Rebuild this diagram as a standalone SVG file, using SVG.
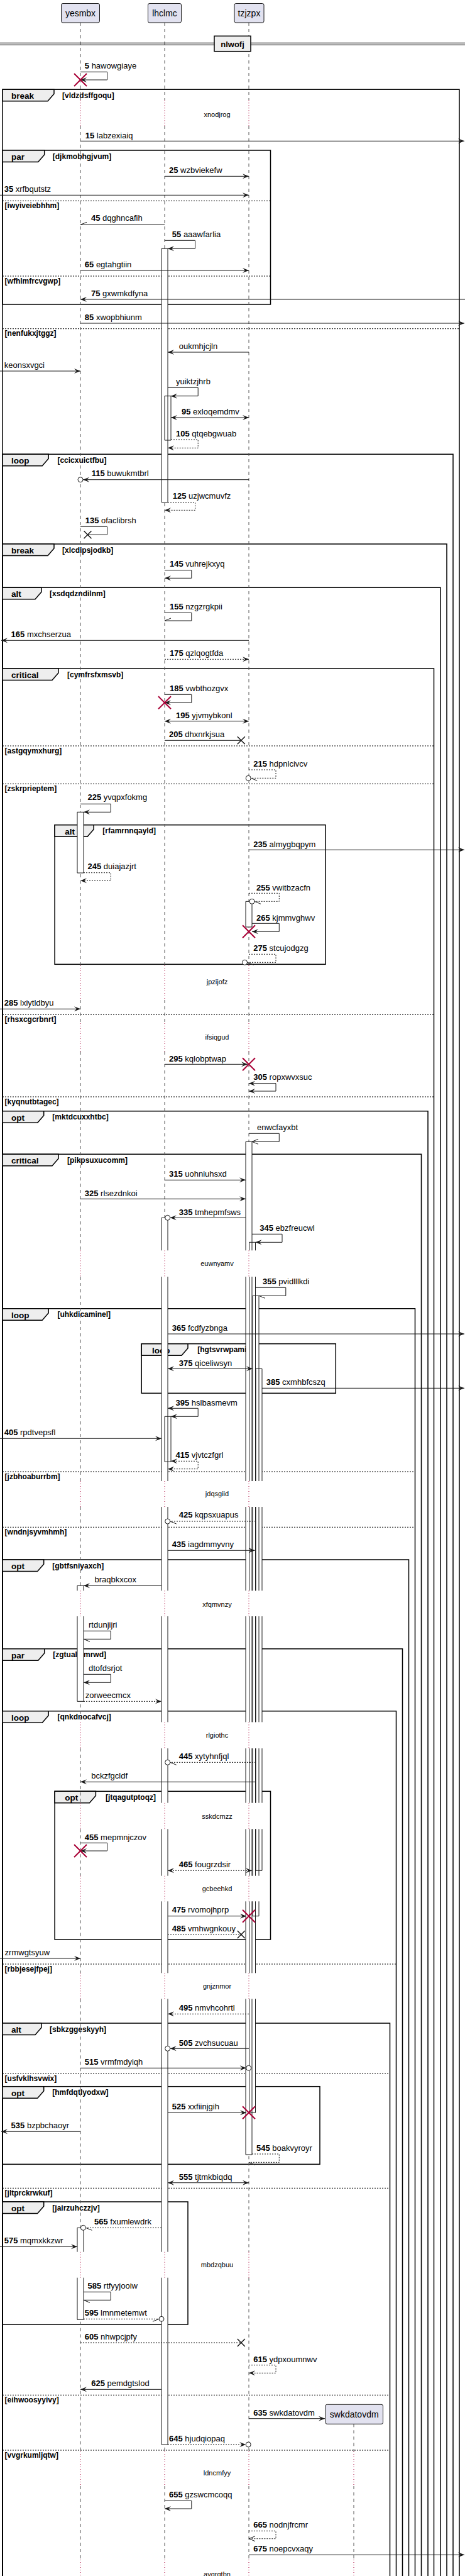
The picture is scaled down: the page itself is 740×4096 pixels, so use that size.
<svg xmlns="http://www.w3.org/2000/svg" xmlns:xlink="http://www.w3.org/1999/xlink" width="740" height="4096" viewBox="0 0 740 4096">
<style>
.ll{stroke:#555;stroke-width:1;stroke-dasharray:5,5;fill:none}
.dl{stroke:#A80036;stroke-width:1;stroke-dasharray:1,3;fill:none}
.pb{fill:#E2E2F0;stroke:#181818;stroke-width:1}
.pt{font-family:"Liberation Sans",Arial,sans-serif;font-size:14px;fill:#000;text-anchor:middle}
.fr{fill:none;stroke:#000;stroke-width:1.5}
.tab{fill:#EEEEEE;stroke:#000;stroke-width:1.5}
.tl{font-family:"Liberation Sans",Arial,sans-serif;font-size:13.5px;font-weight:bold;fill:#000}
.tc{font-family:"Liberation Sans",Arial,sans-serif;font-size:12px;font-weight:bold;fill:#000}
.sep{stroke:#000;stroke-width:1;stroke-dasharray:2,2;fill:none}
.m{font-family:"Liberation Sans",Arial,sans-serif;font-size:13px;fill:#000}
.n{font-weight:bold}
.dt{font-family:"Liberation Sans",Arial,sans-serif;font-size:11px;fill:#000;text-anchor:middle}
.a{stroke:#181818;stroke-width:1;fill:none}
.d{stroke-dasharray:2,2}
.af{fill:#fff;stroke:none}
.ab{fill:none;stroke:#181818;stroke-width:1}
.ci{fill:#fff;stroke:#181818;stroke-width:1}
.dv{stroke:#000;stroke-width:1;fill:none}
</style>
<defs>
<marker id="ah" viewBox="-11 -5 12 10" refX="0" refY="0" markerWidth="12" markerHeight="10" markerUnits="userSpaceOnUse" orient="auto-start-reverse"><path d="M0,0 L-10,-4 L-6,0 L-10,4 Z" fill="#181818"/></marker>
<marker id="ao" viewBox="-11 -5 12 10" refX="0" refY="0" markerWidth="12" markerHeight="10" markerUnits="userSpaceOnUse" orient="auto"><path d="M-10,-4 L0,0 L-10,4" fill="none" stroke="#181818" stroke-width="1"/></marker>
<marker id="hA" viewBox="-11 -5 12 10" refX="0" refY="0" markerWidth="12" markerHeight="10" markerUnits="userSpaceOnUse" orient="auto"><path d="M0,0 L-10,-4" fill="none" stroke="#181818" stroke-width="1"/></marker>
<marker id="hB" viewBox="-11 -5 12 10" refX="0" refY="0" markerWidth="12" markerHeight="10" markerUnits="userSpaceOnUse" orient="auto"><path d="M0,0 L-10,4" fill="none" stroke="#181818" stroke-width="1"/></marker>
<path id="rX" d="M-10,-10L10,10M-10,10L10,-10" stroke="#A80036" stroke-width="2" fill="none"/>
<path id="bX" d="M-6,-6L6,6M-6,6L6,-6" stroke="#181818" stroke-width="1.5" fill="none"/>
<path id="llD" d="M0,36V159.3M0,200V1535M0,1590V1627M0,1672V1988.3M0,2030V2355M0,2396V2529.3M0,2570V2738.3M0,2780V2866.7M0,2908.3V2982.7M0,3023.3V3137.3M0,3178.3V3580.7M0,3621.7V3898M0,3953V4070"/>
<path id="llP" d="M0,159.3V200M0,1535V1590M0,1627V1672M0,1988.3V2030M0,2355V2396M0,2529.3V2570M0,2738.3V2780M0,2866.7V2908.3M0,2982.7V3023.3M0,3137.3V3178.3M0,3580.7V3621.7M0,3898V3953M0,4070V4096"/>
</defs>
<rect x="0" y="0" width="740" height="4096" fill="#fff"/>

<g id="frames">
<!-- F1 break -->
<path class="fr" d="M4,4096V142.3H731V4096"/>
<polygon class="tab" points="4,142.3 86,142.3 86,149.3 76,160.8 4,160.8"/>
<text class="tl" x="18" y="157.3">break</text><text class="tc" x="99" y="155.8">[vldzdsffgoqu]</text>
<path class="sep" d="M4,522.7H731"/><text class="tc" x="7.6" y="534.2">[nenfukxjtggz]</text>
<!-- F2 par -->
<rect class="fr" x="4" y="239" width="426.5" height="245"/>
<polygon class="tab" points="4,239 70.7,239 70.7,246 60.7,257.5 4,257.5"/>
<text class="tl" x="18" y="254">par</text><text class="tc" x="83.8" y="252.5">[djkmobhgjvum]</text>
<path class="sep" d="M4,319.3H430.5"/><text class="tc" x="7.6" y="330.8">[iwyiveiebhhm]</text>
<path class="sep" d="M4,439H430.5"/><text class="tc" x="7.6" y="450.5">[wfhlmfrcvgwp]</text>
<!-- F3 loop -->
<path class="fr" d="M4,4096V722.3H721V4096"/>
<polygon class="tab" points="4,722.3 77.2,722.3 77.2,729.3 67.2,740.8 4,740.8"/>
<text class="tl" x="18" y="737.3">loop</text><text class="tc" x="91.4" y="735.8">[ccicxuictfbu]</text>
<!-- F4 break -->
<path class="fr" d="M4,4096V865H711V4096"/>
<polygon class="tab" points="4,865 86,865 86,872 76,883.5 4,883.5"/>
<text class="tl" x="18" y="880">break</text><text class="tc" x="99" y="878.5">[xlcdipsjodkb]</text>
<!-- F5 alt -->
<path class="fr" d="M4,4096V934.3H701V4096"/>
<polygon class="tab" points="4,934.3 66,934.3 66,941.3 56,952.8 4,952.8"/>
<text class="tl" x="18" y="949.3">alt</text><text class="tc" x="79" y="947.8">[xsdqdzndilnm]</text>
<!-- F6 critical -->
<path class="fr" d="M4,4096V1063H690.5V4096"/>
<polygon class="tab" points="4,1063 93,1063 93,1070 83,1081.5 4,1081.5"/>
<text class="tl" x="18" y="1078">critical</text><text class="tc" x="107" y="1076.5">[cymfrsfxmsvb]</text>
<path class="sep" d="M4,1186H690.5"/><text class="tc" x="7.6" y="1197.5">[astgqymxhurg]</text>
<path class="sep" d="M4,1246.3H690.5"/><text class="tc" x="7.6" y="1257.8">[zskrprieptem]</text>
<path class="sep" d="M4,1613.3H690.5"/><text class="tc" x="7.6" y="1624.8">[rhsxcgcrbnrt]</text>
<path class="sep" d="M4,1744H690.5"/><text class="tc" x="7.6" y="1755.5">[kyqnutbtagec]</text>
<!-- F7 alt nested -->
<rect class="fr" x="87.1" y="1311.7" width="430.9" height="221.6"/>
<polygon class="tab" points="87.1,1311.7 149.1,1311.7 149.1,1318.7 139.1,1330.2 87.1,1330.2"/>
<text class="tl" x="103.3" y="1326.7">alt</text><text class="tc" x="163.3" y="1325.2">[rfamrnnqayld]</text>
<!-- F8 opt -->
<path class="fr" d="M4,4096V1766.7H681V4096"/>
<polygon class="tab" points="4,1766.7 69.7,1766.7 69.7,1773.7 59.7,1785.2 4,1785.2"/>
<text class="tl" x="18" y="1781.7">opt</text><text class="tc" x="83.3" y="1780.2">[mktdcuxxhtbc]</text>
<!-- F9 critical -->
<path class="fr" d="M4,4096V1835.3H670.5V4096"/>
<polygon class="tab" points="4,1835.3 93,1835.3 93,1842.3 83,1853.8 4,1853.8"/>
<text class="tl" x="18" y="1850.3">critical</text><text class="tc" x="107" y="1848.8">[pikpsuxucomm]</text>
<!-- F10 loop -->
<path class="fr" d="M4,4096V2080.7H660.5V4096"/>
<polygon class="tab" points="4,2080.7 77.2,2080.7 77.2,2087.7 67.2,2099.2 4,2099.2"/>
<text class="tl" x="18" y="2095.7">loop</text><text class="tc" x="91.4" y="2094.2">[uhkdicaminel]</text>
<path class="sep" d="M4,2340H660.5"/><text class="tc" x="7.6" y="2351.5">[jzbhoaburrbm]</text>
<path class="sep" d="M4,2428.3H660.5"/><text class="tc" x="7.6" y="2439.8">[wndnjsyvmhmh]</text>
<!-- F11 loop nested -->
<rect class="fr" x="225.2" y="2136.7" width="309.1" height="78.6"/>
<polygon class="tab" points="225.2,2136.7 299,2136.7 299,2143.7 289,2155.2 225.2,2155.2"/>
<text class="tl" x="241.9" y="2151.7">loop</text><text class="tc" x="314.3" y="2150.2">[hgtsvrwpamin]</text>
<!-- F12 opt -->
<path class="fr" d="M4,4096V2480H650.5V4096"/>
<polygon class="tab" points="4,2480 69.7,2480 69.7,2487 59.7,2498.5 4,2498.5"/>
<text class="tl" x="18" y="2495">opt</text><text class="tc" x="83.3" y="2493.5">[gbtfsniyaxch]</text>
<!-- F13 par -->
<path class="fr" d="M4,4096V2621.7H640.5V4096"/>
<polygon class="tab" points="4,2621.7 70.7,2621.7 70.7,2628.7 60.7,2640.2 4,2640.2"/>
<text class="tl" x="18" y="2636.7">par</text><text class="tc" x="84.3" y="2635.2">[zgtualiemrwd]</text>
<!-- F14 loop -->
<path class="fr" d="M4,4096V2720.7H630.5V4096"/>
<polygon class="tab" points="4,2720.7 77.2,2720.7 77.2,2727.7 67.2,2739.2 4,2739.2"/>
<text class="tl" x="18" y="2735.7">loop</text><text class="tc" x="91.4" y="2734.2">[qnkdnocafvcj]</text>
<path class="sep" d="M4,3123H630.5"/><text class="tc" x="7.6" y="3134.5">[rbbjesejfpej]</text>
<!-- F15 opt nested -->
<rect class="fr" x="87.1" y="2848.3" width="343.4" height="235.7"/>
<polygon class="tab" points="87.1,2848.3 152.4,2848.3 152.4,2855.3 142.4,2866.8 87.1,2866.8"/>
<text class="tl" x="103.3" y="2863.3">opt</text><text class="tc" x="168" y="2861.8">[jtqagutptoqz]</text>
<!-- F16 alt -->
<path class="fr" d="M4,4096V3217H620.5V4096"/>
<polygon class="tab" points="4,3217 66,3217 66,3224 56,3235.5 4,3235.5"/>
<text class="tl" x="18" y="3232">alt</text><text class="tc" x="79" y="3230.5">[sbkzggeskyyh]</text>
<path class="sep" d="M4,3297.3H620.5"/><text class="tc" x="7.6" y="3308.8">[usfvklhsvwix]</text>
<path class="sep" d="M4,3479.3H620.5"/><text class="tc" x="7.6" y="3490.8">[jltprckrwkuf]</text>
<path class="sep" d="M4,3808.3H620.5"/><text class="tc" x="7.6" y="3819.8">[eihwoosyyivy]</text>
<path class="sep" d="M4,3896H620.5"/><text class="tc" x="7.6" y="3907.5">[vvgrkumljqtw]</text>
<!-- F17 opt -->
<rect class="fr" x="4" y="3317.7" width="505" height="123.6"/>
<polygon class="tab" points="4,3317.7 69.7,3317.7 69.7,3324.7 59.7,3336.2 4,3336.2"/>
<text class="tl" x="18" y="3332.7">opt</text><text class="tc" x="83.3" y="3331.2">[hmfdqtlyodxw]</text>
<!-- F18 opt -->
<rect class="fr" x="4" y="3501" width="295" height="195"/>
<polygon class="tab" points="4,3501 69.7,3501 69.7,3508 59.7,3519.5 4,3519.5"/>
<text class="tl" x="18" y="3516">opt</text><text class="tc" x="83.3" y="3514.5">[jairzuhczzjv]</text>
</g>

<g id="lifelines">
<use xlink:href="#llD" x="128" class="ll"/>
<use xlink:href="#llD" x="262" class="ll"/>
<use xlink:href="#llD" x="396" class="ll"/>
<use xlink:href="#llP" x="128" class="dl"/>
<use xlink:href="#llP" x="262" class="dl"/>
<use xlink:href="#llP" x="396" class="dl"/>
<path class="ll" d="M563,3854.3V3898M563,3953V4070"/>
<path class="dl" d="M563,3898V3953M563,4070V4096"/>
</g>

<g id="delays">
<text class="dt" x="345.5" y="186">xnodjrog</text>
<text class="dt" x="345.5" y="1565">jpzijofz</text>
<text class="dt" x="345.5" y="1653.3">ifsiqgud</text>
<text class="dt" x="345.5" y="2013.3">euwnyamv</text>
<text class="dt" x="345.5" y="2379.3">jdqsgiid</text>
<text class="dt" x="345.5" y="2555">xfqmvnzy</text>
<text class="dt" x="345.5" y="2763.3">rlgiothc</text>
<text class="dt" x="345.5" y="2891.7">sskdcmzz</text>
<text class="dt" x="345.5" y="3007.3">gcbeehkd</text>
<text class="dt" x="345.5" y="3161.7">gnjznmor</text>
<text class="dt" x="345.5" y="3605">mbdzqbuu</text>
<text class="dt" x="345.5" y="3936">ldncmfyy</text>
<text class="dt" x="345.5" y="4097">avgrqtbn</text>
</g>

<g id="activations">
<path class="af" d="M123,1291.3H133V1388H123Z M123,2521.3H133V2529.3H123Z M123,2570H133V2705.3H123Z M123,3542.3H133V3580.7H123Z M123,3621.7H133V3688.3H123Z M257,395.3H267V798.7H257Z M262,629.7H272V700H262Z M262,2252.3H272V2324.3H262Z M391,1433.3H401V1474H391Z"/>
<path class="af" d="M257,1936.3H267V1988.3H257Z M257,2030H267V2355H257Z M257,2396H267V2529.3H257Z M257,2570H267V2738.3H257Z M257,2780H267V2866.7H257Z M257,2908.3H267V2982.7H257Z M257,3023.3H267V3137.3H257Z M257,3178.3H267V3580.7H257Z M257,3621.7H267V3887H257Z"/>
<path class="af" d="M391,1815.3H401V1988.3H391Z M391,2030H401V2355H391Z M391,2396H401V2529.3H391Z M391,2570H401V2738.3H391Z M391,2780H401V2866.7H391Z M391,2908.3H401V2982.7H391Z M391,3023.3H401V3137.3H391Z M391,3178.3H401V3426H391Z"/>
<path class="af" d="M396.5,1975.3H406.5V1988.3H396.5Z M396.5,2030H406.5V2355H396.5Z M396.5,2396H406.5V2529.3H396.5Z M396.5,2570H406.5V2738.3H396.5Z M396.5,2780H406.5V2866.7H396.5Z M396.5,2908.3H406.5V2982.7H396.5Z M396.5,3023.3H406.5V3137.3H396.5Z M396.5,3178.3H406.5V3359.3H396.5Z"/>
<path class="af" d="M402,2060.3H412V2355H402Z M402,2396H412V2529.3H402Z M402,2570H412V2738.3H402Z M402,2780H412V2866.7H402Z M402,2908.3H412V2982.7H402Z M402,3023.3H412V3046.7H402Z"/>
<path class="af" d="M407,2176.3H417V2355H407Z M407,2396H417V2529.3H407Z M407,2570H417V2738.3H407Z M407,2780H417V2866.7H407Z M407,2908.3H417V2974.3H407Z"/>
<path class="ab" d="M123,1291.3H133V1388H123Z M123,2529.3V2521.3H133V2529.3 M123,2570V2705.3H133V2570 M123,3580.7V3542.3H133V3580.7 M123,3621.7V3688.3H133V3621.7 M257,395.3H267V798.7H257Z M262,629.7H272V700H262Z M262,2252.3H272V2324.3H262Z M391,1433.3H401V1474H391Z"/>
<path class="ab" d="M257,1988.3V1936.3H267V1988.3 M257,2030V2355M267,2030V2355 M257,2396V2529.3M267,2396V2529.3 M257,2570V2738.3M267,2570V2738.3 M257,2780V2866.7M267,2780V2866.7 M257,2908.3V2982.7M267,2908.3V2982.7 M257,3023.3V3137.3M267,3023.3V3137.3 M257,3178.3V3580.7M267,3178.3V3580.7 M257,3621.7V3887H267V3621.7"/>
<path class="ab" d="M391,1988.3V1815.3H401V1988.3 M391,2030V2355M401,2030V2355 M391,2396V2529.3M401,2396V2529.3 M391,2570V2738.3M401,2570V2738.3 M391,2780V2866.7M401,2780V2866.7 M391,2908.3V2982.7M401,2908.3V2982.7 M391,3023.3V3137.3M401,3023.3V3137.3 M391,3178.3V3426H401V3178.3"/>
<path class="ab" d="M396.5,1988.3V1975.3H406.5V1988.3 M396.5,2030V2355M406.5,2030V2355 M396.5,2396V2529.3M406.5,2396V2529.3 M396.5,2570V2738.3M406.5,2570V2738.3 M396.5,2780V2866.7M406.5,2780V2866.7 M396.5,2908.3V2982.7M406.5,2908.3V2982.7 M396.5,3023.3V3137.3M406.5,3023.3V3137.3 M396.5,3178.3V3359.3H406.5V3178.3"/>
<path class="ab" d="M402,2355V2060.3H412V2355 M402,2396V2529.3M412,2396V2529.3 M402,2570V2738.3M412,2570V2738.3 M402,2780V2866.7M412,2780V2866.7 M402,2908.3V2982.7M412,2908.3V2982.7 M402,3023.3V3046.7H412V3023.3"/>
<path class="ab" d="M407,2355V2176.3H417V2355 M407,2396V2529.3M417,2396V2529.3 M407,2570V2738.3M417,2570V2738.3 M407,2780V2866.7M417,2780V2866.7 M407,2908.3V2974.3H417V2908.3"/>
</g>

<g id="yesmbx"><rect class="pb" x="97.5" y="5.5" width="61" height="30.5" rx="2.5"/><text class="pt" x="128" y="26">yesmbx</text></g>
<g id="lhclmc"><rect class="pb" x="235.5" y="5.5" width="53" height="30.5" rx="2.5"/><text class="pt" x="262" y="26">lhclmc</text></g>
<g id="tzjzpx"><rect class="pb" x="373" y="5.5" width="47" height="30.5" rx="2.5"/><text class="pt" x="396.5" y="26">tzjzpx</text></g>
<g id="swkdatovdm"><rect class="pb" x="518" y="3823.3" width="91.5" height="31" rx="2.5"/><text class="pt" x="563.7" y="3844">swkdatovdm</text></g>

<g id="divider">
<path class="dv" d="M0,68.3H740M0,71.3H740"/>
<rect x="341" y="57.3" width="58" height="24.4" fill="#EEEEEE" stroke="#000" stroke-width="1.5"/>
<text x="370" y="75" text-anchor="middle" font-family="Liberation Sans, Arial, sans-serif" font-size="13" font-weight="bold">nlwofj</text>
</g>

<g id="connectors">
<path class="a" d="M128,114.3H170.5V127H128" marker-end="url(#ah)"/><use xlink:href="#rX" x="128" y="127"/>
<text class="m" x="134.8" y="109"><tspan class="n">5</tspan> hawowgiaye</text>
<path class="a" d="M128,224.3H739" marker-end="url(#ah)"/>
<text class="m" x="135.7" y="220"><tspan class="n">15</tspan> labzexiaiq</text>
<path class="a" d="M262,280.3H396" marker-end="url(#ah)"/>
<text class="m" x="269" y="275.3"><tspan class="n">25</tspan> wzbviekefw</text>
<path class="a" d="M0,310.3H396" marker-end="url(#ah)"/>
<text class="m" x="6.7" y="305.3"><tspan class="n">35</tspan> xrfbqutstz</text>
<path class="a" d="M262,357.3H128" marker-end="url(#hB)"/>
<text class="m" x="145" y="350.7"><tspan class="n">45</tspan> dqghncafih</text>
<path class="a" d="M262,382.3H310.5V395.3H267" marker-end="url(#ah)"/>
<text class="m" x="273.8" y="376.7"><tspan class="n">55</tspan> aaawfarlia</text>
<path class="a" d="M128,430H396" marker-end="url(#ah)"/>
<text class="m" x="134.8" y="425"><tspan class="n">65</tspan> egtahgtiin</text>
<path class="a" d="M740,476H128" marker-end="url(#ah)"/>
<text class="m" x="145" y="471"><tspan class="n">75</tspan> gxwmkdfyna</text>
<path class="a" d="M128,514H739" marker-end="url(#ah)"/>
<text class="m" x="134.8" y="509"><tspan class="n">85</tspan> xwopbhiunm</text>
<path class="a" d="M396,560H267" marker-end="url(#ah)"/>
<text class="m" x="284.8" y="555">oukmhjcjln</text>
<path class="a" d="M0,590H128" marker-end="url(#ah)"/>
<text class="m" x="6.7" y="585">keonsxvgci</text>
<path class="a" d="M267,616.3H315.2V629.7H272" marker-end="url(#ah)"/>
<text class="m" x="280" y="611">yuiktzjhrb</text>
<path class="a" d="M272,664H396" marker-start="url(#ah)" marker-end="url(#ah)"/>
<text class="m" x="289" y="659"><tspan class="n">95</tspan> exloqemdmv</text>
<path class="a d" d="M272,699H315.2V712.3H267" marker-end="url(#ah)"/>
<text class="m" x="280" y="694"><tspan class="n">105</tspan> qtqebgwuab</text>
<path class="a" d="M396,762.7H132" marker-end="url(#ah)"/><circle class="ci" cx="128" cy="762.7" r="4"/>
<text class="m" x="145.7" y="757.3"><tspan class="n">115</tspan> buwukmtbrl</text>
<path class="a d" d="M267,798.7H310.5V811.3H262" marker-end="url(#ah)"/>
<text class="m" x="274.8" y="793.3"><tspan class="n">125</tspan> uzjwcmuvfz</text>
<path class="a" d="M128,837.3H170.5V850.3H139.5"/><use xlink:href="#bX" x="139.5" y="850.3"/>
<text class="m" x="135.7" y="832"><tspan class="n">135</tspan> ofaclibrsh</text>
<path class="a" d="M262,906.7H304.8V919.3H262" marker-end="url(#ah)"/>
<text class="m" x="270" y="900.7"><tspan class="n">145</tspan> vuhrejkxyq</text>
<path class="a" d="M262,974.3H304.8V987H262" marker-end="url(#hB)"/>
<text class="m" x="270" y="968.7"><tspan class="n">155</tspan> nzgzrgkpii</text>
<path class="a" d="M396,1018.3H2" marker-end="url(#ah)"/>
<text class="m" x="17.6" y="1013.3"><tspan class="n">165</tspan> mxchserzua</text>
<path class="a d" d="M262,1048.3H396" marker-end="url(#ah)"/>
<text class="m" x="270" y="1043.3"><tspan class="n">175</tspan> qzlqogtfda</text>
<path class="a" d="M262,1104.3H304.8V1117.3H262" marker-end="url(#ah)"/><use xlink:href="#rX" x="262" y="1117.3"/>
<text class="m" x="270" y="1098.7"><tspan class="n">185</tspan> vwbthozgvx</text>
<path class="a" d="M262,1146.7H396" marker-start="url(#ah)" marker-end="url(#ah)"/>
<text class="m" x="280" y="1142.3"><tspan class="n">195</tspan> yjvmybkonl</text>
<path class="a" d="M262,1177.3H383.8"/><use xlink:href="#bX" x="383.8" y="1177.3"/>
<text class="m" x="269" y="1172"><tspan class="n">205</tspan> dhxnrkjsua</text>
<path class="a d" d="M396,1224H439V1237.3H399.2" marker-end="url(#hA)"/><circle class="ci" cx="395.2" cy="1237.3" r="4"/>
<text class="m" x="403.3" y="1218.7"><tspan class="n">215</tspan> hdpnlcivcv</text>
<path class="a" d="M128,1278.3H176.2V1291.3H133" marker-end="url(#ah)"/>
<text class="m" x="139.5" y="1272.3"><tspan class="n">225</tspan> yvqpxfokmg</text>
<path class="a" d="M396,1351.3H739" marker-end="url(#ah)"/>
<text class="m" x="403.3" y="1346.7"><tspan class="n">235</tspan> almygbqpym</text>
<path class="a d" d="M133,1387.7H176.2V1400.3H128" marker-end="url(#ah)"/>
<text class="m" x="139.5" y="1382"><tspan class="n">245</tspan> duiajazjrt</text>
<path class="a d" d="M396,1420.3H444.3V1433.3H405" marker-end="url(#hA)"/><circle class="ci" cx="401" cy="1433.3" r="4"/>
<text class="m" x="408" y="1415.7"><tspan class="n">255</tspan> vwitbzacfn</text>
<path class="a" d="M401,1468.3H444.3V1481.3H401" marker-end="url(#ah)"/><use xlink:href="#rX" x="396" y="1481.3"/>
<text class="m" x="408" y="1464"><tspan class="n">265</tspan> kjmmvghwv</text>
<path class="a d" d="M396,1517.3H439V1530.3H393.5" marker-end="url(#hA)"/><circle class="ci" cx="389.5" cy="1530.3" r="4"/>
<text class="m" x="403.3" y="1512"><tspan class="n">275</tspan> stcujodgzg</text>
<path class="a" d="M0,1604.3H128" marker-end="url(#ah)"/>
<text class="m" x="6.7" y="1599.3"><tspan class="n">285</tspan> lxiytldbyu</text>
<path class="a" d="M262,1692.3H394" marker-end="url(#ah)"/><use xlink:href="#rX" x="396" y="1692.3"/>
<text class="m" x="269" y="1687.7"><tspan class="n">295</tspan> kqlobptwap</text>
<path class="a" d="M396,1722.7H439V1735H396" marker-start="url(#ah)" marker-end="url(#ah)"/>
<text class="m" x="403.3" y="1717.3"><tspan class="n">305</tspan> ropxwvxsuc</text>
<path class="a" d="M396,1802.3H444.3V1815.3H401" marker-end="url(#ao)"/>
<text class="m" x="409" y="1797.3">enwcfayxbt</text>
<path class="a" d="M262,1876.3H391" marker-end="url(#ah)"/>
<text class="m" x="269" y="1870.7"><tspan class="n">315</tspan> uohniuhsxd</text>
<path class="a" d="M128,1906.3H391" marker-end="url(#ah)"/>
<text class="m" x="134.8" y="1901.7"><tspan class="n">325</tspan> rlsezdnkoi</text>
<path class="a" d="M391,1936.3H270.7" marker-end="url(#ah)"/><circle class="ci" cx="266.7" cy="1936.3" r="4"/>
<text class="m" x="284.8" y="1931.7"><tspan class="n">335</tspan> tmhepmfsws</text>
<path class="a" d="M401,1962.3H449V1975.3H406.5" marker-end="url(#ah)"/>
<text class="m" x="413.3" y="1956.7"><tspan class="n">345</tspan> ebzfreucwl</text>
<path class="a" d="M406.5,2047.3H454.8V2060.3H412" marker-end="url(#hA)"/>
<text class="m" x="418" y="2041.7"><tspan class="n">355</tspan> pvidlllkdi</text>
<path class="a" d="M267,2121H739" marker-end="url(#ah)"/>
<text class="m" x="273.8" y="2116"><tspan class="n">365</tspan> fcdfyzbnga</text>
<path class="a" d="M267,2176.3H402" marker-start="url(#ah)" marker-end="url(#ah)"/>
<text class="m" x="284.8" y="2171.7"><tspan class="n">375</tspan> qiceliwsyn</text>
<path class="a" d="M417,2207.3H739" marker-end="url(#ah)"/>
<text class="m" x="423.8" y="2202.3"><tspan class="n">385</tspan> cxmhbfcszq</text>
<path class="a" d="M267,2239.3H315.2V2252.3H272" marker-start="url(#ah)" marker-end="url(#ah)"/>
<text class="m" x="279.5" y="2235"><tspan class="n">395</tspan> hslbasmevm</text>
<path class="a" d="M0,2287.3H257" marker-end="url(#ah)"/>
<text class="m" x="6.7" y="2282.3"><tspan class="n">405</tspan> rpdtvepsfl</text>
<path class="a d" d="M272,2323.3H315.2V2335.7H267" marker-start="url(#ah)" marker-end="url(#ah)"/>
<text class="m" x="279.5" y="2317.7"><tspan class="n">415</tspan> vjvtczfgrl</text>
<path class="a d" d="M407,2419H270.7" marker-end="url(#hA)"/><circle class="ci" cx="266.7" cy="2419" r="4"/>
<text class="m" x="284.8" y="2413.3"><tspan class="n">425</tspan> kqpsxuapus</text>
<path class="a" d="M267,2465.3H405.7" marker-end="url(#ah)"/>
<text class="m" x="273.8" y="2460"><tspan class="n">435</tspan> iagdmmyvny</text>
<path class="a" d="M257,2521.3H133" marker-end="url(#ah)"/>
<text class="m" x="150.5" y="2516">braqbkxcox</text>
<path class="a" d="M133,2593.3H176.2V2606.3H133" marker-end="url(#hA)"/>
<text class="m" x="141" y="2588.3">rtdunjijri</text>
<path class="a" d="M133,2662.3H176.2V2675.3H133" marker-end="url(#ah)"/>
<text class="m" x="141" y="2657.3">dtofdsrjot</text>
<path class="a d" d="M133,2705.3H257" marker-end="url(#ah)"/>
<text class="m" x="135.7" y="2700">zorweecmcx</text>
<path class="a d" d="M407,2802.3H270.7" marker-end="url(#hA)"/><circle class="ci" cx="266.7" cy="2802.3" r="4"/>
<text class="m" x="284.8" y="2797.3"><tspan class="n">445</tspan> xytyhnfjql</text>
<path class="a" d="M407,2833.3H128" marker-end="url(#ah)"/>
<text class="m" x="145.2" y="2828.3">bckzfgcldf</text>
<path class="a" d="M128,2930.3H170.5V2943H128" marker-end="url(#ah)"/><use xlink:href="#rX" x="128" y="2943"/>
<text class="m" x="134.8" y="2926"><tspan class="n">455</tspan> mepmnjczov</text>
<path class="a d" d="M267,2974.3H401" marker-start="url(#ah)" marker-end="url(#ah)"/>
<text class="m" x="284.8" y="2969.3"><tspan class="n">465</tspan> fougrzdsir</text>
<path class="a" d="M267,3046.7H392" marker-end="url(#ah)"/><use xlink:href="#rX" x="396" y="3046.7"/>
<text class="m" x="273.8" y="3041"><tspan class="n">475</tspan> rvomojhprp</text>
<path class="a d" d="M267,3076H383.8"/><use xlink:href="#bX" x="383.8" y="3076"/>
<text class="m" x="273.8" y="3071"><tspan class="n">485</tspan> vmhwgnkouy</text>
<path class="a" d="M0,3114H128" marker-end="url(#ah)"/>
<text class="m" x="7.6" y="3109">zrmwgtsyuw</text>
<path class="a d" d="M396,3202.3H267" marker-end="url(#ah)"/>
<text class="m" x="284.8" y="3197.3"><tspan class="n">495</tspan> nmvhcohrtl</text>
<path class="a" d="M396.7,3257.3H270.7" marker-end="url(#ah)"/><circle class="ci" cx="266.7" cy="3257.3" r="4"/>
<text class="m" x="284.8" y="3252.7"><tspan class="n">505</tspan> zvchsucuau</text>
<path class="a" d="M128,3288.3H391.7" marker-end="url(#ah)"/><circle class="ci" cx="395.7" cy="3288.3" r="4"/>
<text class="m" x="134.8" y="3283.3"><tspan class="n">515</tspan> vrmfmdyiqh</text>
<path class="a" d="M267,3359.3H392" marker-end="url(#ah)"/><use xlink:href="#rX" x="396" y="3359.3"/>
<text class="m" x="273.8" y="3354"><tspan class="n">525</tspan> xxfiinjgih</text>
<path class="a" d="M128,3389.3H2" marker-end="url(#ah)"/>
<text class="m" x="17.6" y="3384"><tspan class="n">535</tspan> bzpbchaoyr</text>
<path class="a d" d="M401,3425H444.3V3438.3H396" marker-end="url(#hA)"/>
<text class="m" x="408" y="3420"><tspan class="n">545</tspan> boakvyroyr</text>
<path class="a" d="M267,3470.7H396" marker-start="url(#ah)" marker-end="url(#ah)"/>
<text class="m" x="284.8" y="3465.7"><tspan class="n">555</tspan> tjtmkbiqdq</text>
<path class="a d" d="M257,3542.3H136.4" marker-end="url(#hA)"/><circle class="ci" cx="132.4" cy="3542.3" r="4"/>
<text class="m" x="150" y="3536.7"><tspan class="n">565</tspan> fxumlewdrk</text>
<path class="a" d="M0,3572.3H123" marker-end="url(#ah)"/>
<text class="m" x="6.7" y="3566.7"><tspan class="n">575</tspan> mqmxkkzwr</text>
<path class="a" d="M133,3644.3H176.2V3657.3H133" marker-end="url(#hA)"/>
<text class="m" x="139.5" y="3639.3"><tspan class="n">585</tspan> rtfyyjooiw</text>
<path class="a d" d="M133,3687.3H253" marker-end="url(#hB)"/><circle class="ci" cx="257" cy="3687.3" r="4"/>
<text class="m" x="134.8" y="3681.7"><tspan class="n">595</tspan> lmnmetemwt</text>
<path class="a d" d="M128,3725H383.8"/><use xlink:href="#bX" x="383.8" y="3725"/>
<text class="m" x="134.8" y="3720"><tspan class="n">605</tspan> nhwpcjpfy</text>
<path class="a d" d="M396,3760.7H439V3773.3H396" marker-end="url(#ah)"/>
<text class="m" x="403.3" y="3755.7"><tspan class="n">615</tspan> ydpxoumnwv</text>
<path class="a" d="M257,3799.3H128" marker-end="url(#ah)"/>
<text class="m" x="145.2" y="3794"><tspan class="n">625</tspan> pemdgtslod</text>
<path class="a" d="M396,3845.7H517" marker-end="url(#ah)"/>
<text class="m" x="403.3" y="3840.7"><tspan class="n">635</tspan> swkdatovdm</text>
<path class="a d" d="M267,3887H391.2" marker-end="url(#ah)"/><circle class="ci" cx="395.2" cy="3887" r="4"/>
<text class="m" x="269" y="3882"><tspan class="n">645</tspan> hjudqiopaq</text>
<path class="a" d="M262,3976.3H304.8V3989H262" marker-end="url(#ah)"/>
<text class="m" x="269" y="3971"><tspan class="n">655</tspan> gzswcmcoqq</text>
<path class="a d" d="M396,4024.3H439V4036.7H396" marker-end="url(#ao)"/>
<text class="m" x="403.3" y="4018.7"><tspan class="n">665</tspan> nodnjfrcmr</text>
<path class="a" d="M396,4062.3H739" marker-end="url(#ah)"/>
<text class="m" x="403.3" y="4057.3"><tspan class="n">675</tspan> noepcvxaqy</text>
</g>
</svg>
